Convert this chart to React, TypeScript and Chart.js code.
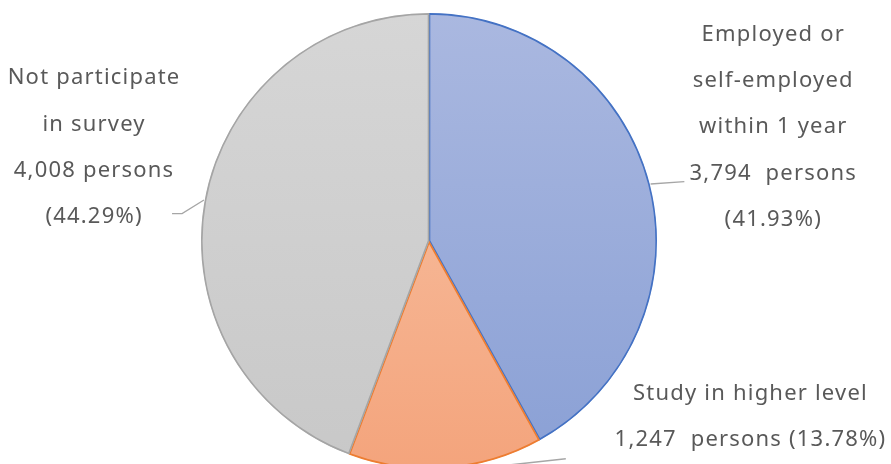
import React, { useEffect, useRef } from "react";
import { Chart, registerables } from "chart.js";

Chart.register(...registerables);

const categories = ["Employed or self-employed within 1 year", "Study in higher level", "Not participate in survey"];
const values = [3794, 1247, 4008];
const labelLines = [
  ["Employed or", "self-employed", "within 1 year", "3,794  persons", "(41.93%)"],
  ["Study in higher level", "1,247  persons (13.78%)"],
  ["Not participate", "in survey", "4,008 persons", "(44.29%)"],
];
const topColors = ["#aab8e0", "#f8c6aa", "#d6d6d6"];
const bottomColors = ["#8aa0d5", "#f4a47c", "#c8c8c8"];
const borderColors = ["#4472c4", "#ed7d31", "#a5a5a5"];

const FONT = '22px "Noto Sans", "Open Sans", sans-serif';
const TEXT_COLOR = "#595959";
const LINE_COLOR = "#a6a6a6";

const labelPlugin = {
  id: "pieLabels",
  afterDatasetsDraw(chart: any) {
    const ctx = chart.ctx as CanvasRenderingContext2D;
    const meta = chart.getDatasetMeta(0);
    const arcs = meta.data as any[];
    if (!arcs.length) return;
    const cx = arcs[0].x;
    const cy = arcs[0].y;
    const r = arcs[0].outerRadius;
    const placements = [
      { x: cx + r * 1.51, y: cy - r * 0.906, line: [cx + r * 0.972, cy - r * 0.25, cx + r * 1.12, cy - r * 0.26] },
      { x: cx + r * 1.41, y: cy + r * 0.668, line: [cx + r * 0.19, cy + r * 1.0, cx + r * 0.6, cy + r * 0.955] },
      { x: cx - r * 1.469, y: cy - r * 0.715, line: [cx - r * 0.987, cy - r * 0.18, cx - r * 1.083, cy - r * 0.12, cx - r * 1.127, cy - r * 0.12] },
    ];
    ctx.save();
    ctx.font = FONT;
    (ctx as any).letterSpacing = "1.2px";
    ctx.fillStyle = TEXT_COLOR;
    ctx.textAlign = "center";
    ctx.textBaseline = "middle";
    placements.forEach((p, i) => {
      const lines = labelLines[i];
      const lh = r * 0.203;
      lines.forEach((t, j) => ctx.fillText(t, p.x, p.y + j * lh));
      ctx.beginPath();
      ctx.strokeStyle = LINE_COLOR;
      ctx.lineWidth = 1.3;
      ctx.moveTo(p.line[0], p.line[1]);
      for (let k = 2; k < p.line.length; k += 2) ctx.lineTo(p.line[k], p.line[k + 1]);
      ctx.stroke();
    });
    ctx.restore();
  },
};

export default function App() {
  const ref = useRef<HTMLCanvasElement | null>(null);
  useEffect(() => {
    document.body.style.margin = "0";
    const canvas = ref.current!;
    const makeGrad = (ctx: any, area: any, i: number) => {
      const g = ctx.createLinearGradient(0, area.top, 0, area.bottom);
      g.addColorStop(0, topColors[i]);
      g.addColorStop(1, bottomColors[i]);
      return g;
    };
    const chart = new Chart(canvas, {
      type: "pie",
      data: {
        labels: categories,
        datasets: [
          {
            data: values,
            backgroundColor: (c: any) => {
              const area = c.chart.chartArea;
              if (!area) return topColors[c.dataIndex];
              return makeGrad(c.chart.ctx, area, c.dataIndex);
            },
            borderColor: borderColors,
            borderWidth: 1.3,
            borderAlign: "inner",
          } as any,
        ],
      },
      options: {
        animation: false,
        responsive: false,
        maintainAspectRatio: false,
        layout: { padding: { top: 13, bottom: 13, left: 0, right: 33 } },
        plugins: { legend: { display: false }, tooltip: { enabled: false } },
      },
      plugins: [labelPlugin],
    });
    return () => chart.destroy();
  }, []);
  return (
    <div style={{ position: "fixed", left: 0, top: 0, width: 891, height: 464, overflow: "hidden", background: "#fff" }}>
      <canvas ref={ref} width={891} height={482} style={{ width: 891, height: 482, display: "block" }} />
    </div>
  );
}
